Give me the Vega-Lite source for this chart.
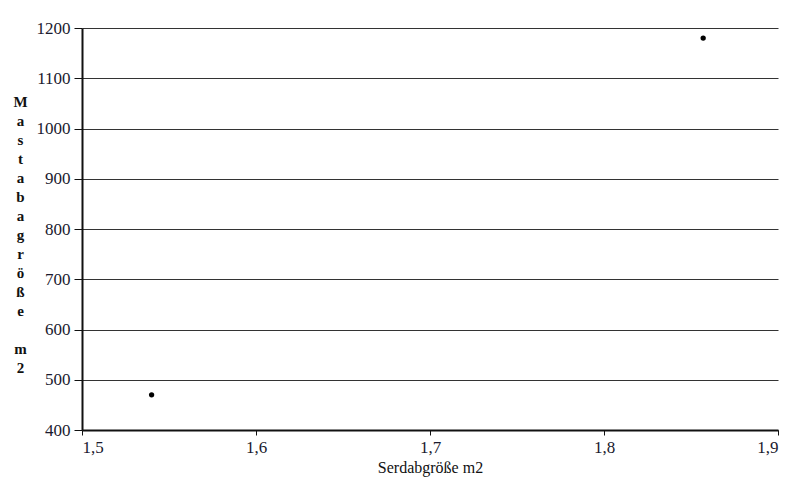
{
  "$schema": "https://vega.github.io/schema/vega-lite/v6.json",
  "autosize": "none",
  "width": 696,
  "height": 402,
  "padding": {"left": 82, "top": 28, "right": 15, "bottom": 64},
  "background": "white",
  "data": {
    "values": [
      {"serdab": 1.54, "mastaba": 470},
      {"serdab": 1.857, "mastaba": 1180}
    ]
  },
  "mark": {"type": "point", "filled": true, "color": "black", "size": 28, "opacity": 1},
  "encoding": {
    "x": {
      "field": "serdab",
      "type": "quantitative",
      "title": "Serdabgröße m2",
      "scale": {"domain": [1.5, 1.9], "nice": false, "zero": false},
      "axis": {
        "values": [1.5, 1.6, 1.7, 1.8, 1.9],
        "labelExpr": "replace(format(datum.value, '.1f'), '.', ',')",
        "grid": false,
        "domainColor": "#111",
        "domainWidth": 2,
        "tickColor": "#111",
        "tickSize": 5,
        "labelPadding": 4,
        "titlePadding": 4
      }
    },
    "y": {
      "field": "mastaba",
      "type": "quantitative",
      "title": ["M", "a", "s", "t", "a", "b", "a", "g", "r", "ö", "ß", "e", "\u200b", "m", "2"],
      "scale": {"domain": [400, 1200], "nice": false, "zero": false},
      "axis": {
        "values": [400, 500, 600, 700, 800, 900, 1000, 1100, 1200],
        "format": "d",
        "grid": true,
        "gridColor": "#333",
        "gridWidth": 1,
        "gridOpacity": 1,
        "domainColor": "#111",
        "domainWidth": 2,
        "tickColor": "#111",
        "tickSize": 8,
        "labelPadding": 4,
        "titleAngle": 0,
        "titleAlign": "center",
        "titleBaseline": "top",
        "titleX": -62,
        "titleY": 66,
        "titleLineHeight": 19,
        "titleFontWeight": "bold",
        "titleFontSize": 15
      }
    }
  },
  "config": {
    "view": {"stroke": null},
    "axis": {
      "labelFont": "Liberation Serif",
      "titleFont": "Liberation Serif",
      "labelFontSize": 17,
      "titleFontSize": 16,
      "titleFontWeight": "normal",
      "labelColor": "#1a1a2e",
      "titleColor": "#111"
    }
  }
}
